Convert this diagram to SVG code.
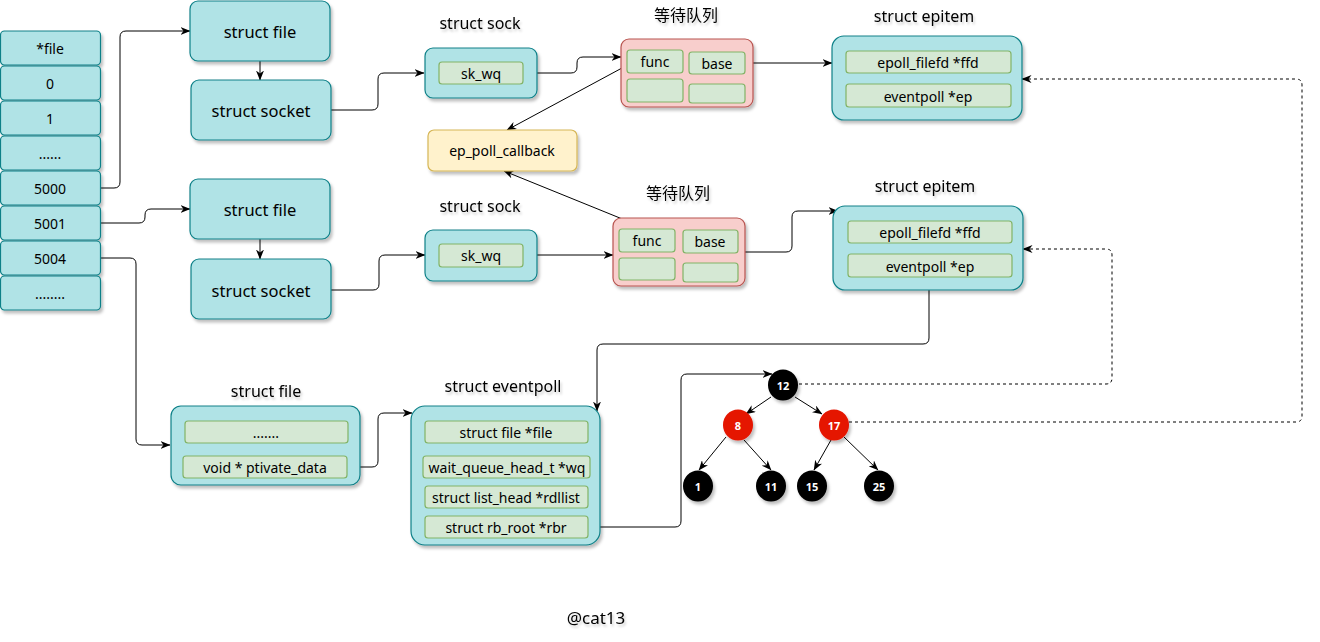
<svg xmlns="http://www.w3.org/2000/svg" width="1320" height="642" viewBox="0 0 1320 642">
<style>
text{font-family:"Noto Sans","Noto Sans CJK SC",sans-serif;text-anchor:middle;dominant-baseline:central;fill:#000}
.teal{fill:#b0e3e6;stroke:#0e8088;stroke-width:1.2}
.green{fill:#d5e8d4;stroke:#82b366;stroke-width:1.2}
.pink{fill:#f8cecc;stroke:#b85450;stroke-width:1.2}
.yel{fill:#fff2cc;stroke:#d6b656;stroke-width:1.2}
.sh{filter:url(#shadow)}
.t13{font-size:14px}
.t15{font-size:16.5px}
.lbl{font-size:16px;filter:url(#tshadow)}
.num{font-size:11px;font-weight:bold;fill:#fff}
.edge{fill:none;stroke:#000;stroke-width:1;marker-end:url(#arr)}
.dash{fill:none;stroke:#000;stroke-width:1;stroke-dasharray:3,3;marker-end:url(#arr)}
</style>
<defs>
<filter id="shadow" x="-20%" y="-20%" width="140%" height="150%">
<feDropShadow dx="2" dy="3" stdDeviation="1.5" flood-color="#000" flood-opacity="0.25"/>
</filter>
<filter id="tshadow" x="-20%" y="-30%" width="140%" height="170%">
<feDropShadow dx="1.5" dy="2.5" stdDeviation="1.2" flood-color="#000" flood-opacity="0.2"/>
</filter>
<marker id="arr" viewBox="0 0 10 8" refX="9.5" refY="4" markerWidth="10" markerHeight="8" markerUnits="userSpaceOnUse" orient="auto">
<path d="M0,0 L10,4 L0,8 L3,4 Z" fill="#000"/>
</marker>
</defs>
<rect width="1320" height="642" fill="#fff"/>

<g id="connectors">
<path class="edge" d="M100,188 H114 Q120,188 120,182 V37 Q120,31 126,31 H190"/>
<path class="edge" d="M100,223 H139 Q145,223 145,217 V215 Q145,209 151,209 H190"/>
<path class="edge" d="M100,258 H130 Q136,258 136,264 V439 Q136,445 142,445 H170"/>
<path class="edge" d="M260,61 V80"/>
<path class="edge" d="M260,239 V259"/>
<path class="edge" d="M331,110 H372 Q378,110 378,104 V79 Q378,73 384,73 H424"/>
<path class="edge" d="M331,290 H373 Q379,290 379,284 V261 Q379,255 385,255 H425"/>
<path class="edge" d="M537,73 H571 Q577,73 577,67 V63 Q577,57 583,57 H621"/>
<path class="edge" d="M537,255 H613"/>
<path class="edge" d="M622,68 L507,130"/>
<path class="edge" d="M647,229 L504,171"/>
<path class="edge" d="M745,63 H832"/>
<path class="edge" d="M738,252 H786 Q792,252 792,246 V217 Q792,211 798,211 H838"/>
<path class="edge" d="M929,277 V338 Q929,344 923,344 H603 Q597,344 597,350 V411"/>
<path class="edge" d="M348,467 H372 Q378,467 378,461 V419 Q378,413 384,413 H412"/>
<path class="edge" d="M588,527 H675 Q681,527 681,521 V380 Q681,374 687,374 H772"/>
<path class="edge" d="M771,397 L746,414"/>
<path class="edge" d="M795,397 L822,414"/>
<path class="edge" d="M726,437 L699,470"/>
<path class="edge" d="M744,440 L771,470"/>
<path class="edge" d="M831,440 L814,470"/>
<path class="edge" d="M844,437 L878,470"/>
<path class="dash" d="M799,384 H1106 Q1112,384 1112,378 V255 Q1112,249 1106,249 H1023"/>
<path class="dash" d="M849,422 H1296 Q1302,422 1302,416 V85 Q1302,79 1296,79 H1022"/>
</g>

<g id="fdtable">
<g id="cell-file"><rect class="teal sh" x="0.5" y="31" width="100" height="34" rx="4"/><text class="t13" x="50" y="48">*file</text></g>
<g id="cell-0"><rect class="teal sh" x="0.5" y="66" width="100" height="34" rx="4"/><text class="t13" x="50" y="83">0</text></g>
<g id="cell-1"><rect class="teal sh" x="0.5" y="101" width="100" height="34" rx="4"/><text class="t13" x="50" y="118">1</text></g>
<g id="cell-dots1"><rect class="teal sh" x="0.5" y="136" width="100" height="34" rx="4"/><text class="t13" x="50" y="153">......</text></g>
<g id="cell-5000"><rect class="teal sh" x="0.5" y="171" width="100" height="34" rx="4"/><text class="t13" x="50" y="188">5000</text></g>
<g id="cell-5001"><rect class="teal sh" x="0.5" y="206" width="100" height="34" rx="4"/><text class="t13" x="50" y="223">5001</text></g>
<g id="cell-5004"><rect class="teal sh" x="0.5" y="241" width="100" height="34" rx="4"/><text class="t13" x="50" y="258">5004</text></g>
<g id="cell-dots2"><rect class="teal sh" x="0.5" y="276" width="100" height="34" rx="4"/><text class="t13" x="50" y="293">........</text></g>
</g>

<g id="file1"><rect class="teal sh" x="190" y="1" width="140" height="60" rx="8"/><text class="t15" x="260" y="31">struct file</text></g>
<g id="socket1"><rect class="teal sh" x="191" y="80" width="140" height="60" rx="8"/><text class="t15" x="261" y="110">struct socket</text></g>
<g id="file2"><rect class="teal sh" x="190" y="179" width="140" height="60" rx="8"/><text class="t15" x="260" y="209">struct file</text></g>
<g id="socket2"><rect class="teal sh" x="191" y="259" width="140" height="60" rx="8"/><text class="t15" x="261" y="290">struct socket</text></g>

<g id="sock1">
<text class="lbl" x="480" y="23">struct sock</text>
<rect class="teal sh" x="425" y="48" width="112" height="50" rx="8"/>
<rect class="green" x="439" y="62" width="84" height="22" rx="3"/><text class="t13" x="481" y="73">sk_wq</text>
</g>
<g id="sock2">
<text class="lbl" x="480" y="206">struct sock</text>
<rect class="teal sh" x="425" y="230" width="112" height="51" rx="8"/>
<rect class="green" x="439" y="244" width="84" height="23" rx="3"/><text class="t13" x="481" y="255">sk_wq</text>
</g>

<g id="waitq1">
<text class="lbl" x="686" y="15">等待队列</text>
<rect class="pink sh" x="621" y="39" width="132" height="68" rx="8"/>
<rect class="green" x="627" y="50" width="56" height="23" rx="3"/><text class="t13" x="655" y="61">func</text>
<rect class="green" x="689" y="52" width="56" height="22" rx="3"/><text class="t13" x="717" y="63">base</text>
<rect class="green" x="627" y="79" width="56" height="23" rx="3"/>
<rect class="green" x="689" y="84" width="56" height="19" rx="3"/>
</g>
<g id="waitq2">
<text class="lbl" x="678" y="193">等待队列</text>
<rect class="pink sh" x="613" y="218" width="132" height="68" rx="8"/>
<rect class="green" x="619" y="229" width="56" height="23" rx="3"/><text class="t13" x="647" y="240">func</text>
<rect class="green" x="683" y="230" width="55" height="23" rx="3"/><text class="t13" x="710" y="241">base</text>
<rect class="green" x="619" y="258" width="56" height="22" rx="3"/>
<rect class="green" x="683" y="263" width="55" height="19" rx="3"/>
</g>

<g id="callback"><rect class="yel sh" x="428" y="130" width="149" height="41" rx="6"/><text class="t13" x="502" y="150">ep_poll_callback</text></g>

<g id="epitem1">
<text class="lbl" x="924" y="16">struct epitem</text>
<rect class="teal sh" x="832" y="36" width="190" height="84" rx="12"/>
<rect class="green" x="846" y="51" width="165" height="22" rx="3"/><text class="t13" x="928" y="62">epoll_filefd *ffd</text>
<rect class="green" x="846" y="84" width="165" height="23" rx="3"/><text class="t13" x="928" y="96">eventpoll *ep</text>
</g>
<g id="epitem2">
<text class="lbl" x="925" y="186">struct epitem</text>
<rect class="teal sh" x="833" y="206" width="190" height="84" rx="12"/>
<rect class="green" x="848" y="221" width="164" height="22" rx="3"/><text class="t13" x="930" y="232">epoll_filefd *ffd</text>
<rect class="green" x="848" y="254" width="164" height="23" rx="3"/><text class="t13" x="930" y="266">eventpoll *ep</text>
</g>

<g id="file3">
<text class="lbl" x="266" y="391">struct file</text>
<rect class="teal sh" x="171" y="406" width="189" height="79" rx="10"/>
<rect class="green" x="185" y="421" width="163" height="22" rx="3"/><text class="t13" x="266" y="432">.......</text>
<rect class="green" x="183" y="456" width="164" height="22" rx="3"/><text class="t13" x="265" y="467">void * ptivate_data</text>
</g>

<g id="eventpoll">
<text class="lbl" x="503" y="386">struct eventpoll</text>
<rect class="teal sh" x="411" y="406" width="189" height="139" rx="14"/>
<rect class="green" x="425" y="421" width="163" height="22" rx="3"/><text class="t13" x="506" y="432">struct file *file</text>
<rect class="green" x="423" y="456" width="167" height="22" rx="3"/><text class="t13" x="507" y="467">wait_queue_head_t *wq</text>
<rect class="green" x="425" y="486" width="163" height="22" rx="3"/><text class="t13" x="506" y="497">struct list_head *rdllist</text>
<rect class="green" x="425" y="516" width="163" height="22" rx="3"/><text class="t13" x="506" y="527">struct rb_root *rbr</text>
</g>

<g id="n12"><ellipse class="sh" cx="783" cy="385" rx="15" ry="15.5" fill="#000"/><text class="num" x="783" y="385">12</text></g>
<g id="n8"><ellipse class="sh" cx="738" cy="425" rx="15" ry="15.5" fill="#e51400"/><text class="num" x="738" y="425">8</text></g>
<g id="n17"><ellipse class="sh" cx="834" cy="425" rx="15" ry="15.5" fill="#e51400"/><text class="num" x="834" y="425">17</text></g>
<g id="n1"><ellipse class="sh" cx="698" cy="486" rx="15" ry="15.5" fill="#000"/><text class="num" x="698" y="486">1</text></g>
<g id="n11"><ellipse class="sh" cx="771" cy="486" rx="15" ry="15.5" fill="#000"/><text class="num" x="771" y="486">11</text></g>
<g id="n15"><ellipse class="sh" cx="812" cy="486" rx="15" ry="15.5" fill="#000"/><text class="num" x="812" y="486">15</text></g>
<g id="n25"><ellipse class="sh" cx="879" cy="486" rx="15" ry="15.5" fill="#000"/><text class="num" x="879" y="486">25</text></g>

<g id="credit"><text class="lbl" x="596" y="617" style="font-size:17px">@cat13</text></g>
</svg>
